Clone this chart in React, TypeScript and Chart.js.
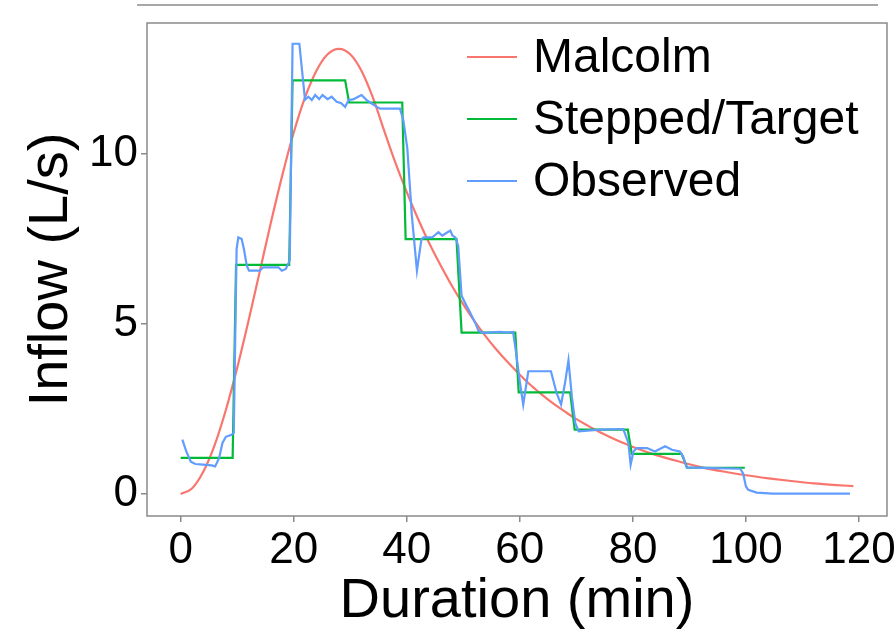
import { useEffect, useRef } from "react";
import { Chart, registerables } from "chart.js";

Chart.register(...registerables);

const FONT = "'Liberation Sans', Arial, sans-serif";

const seriesNames = ["Malcolm", "Stepped/Target", "Observed"];
const seriesColors = ["#F8766D", "#00BA38", "#619CFF"];

const xTickValues = [0, 20, 40, 60, 80, 100, 120];
const yTickValues = [0, 5, 10];

const malcolmX = [0, 2, 4, 6, 8, 10, 12, 14, 16, 18, 20, 22, 24, 26, 28, 30, 32, 34, 36, 38, 40, 42, 44, 46, 48, 50, 52, 54, 56, 58, 60, 62, 64, 66, 68, 70, 72, 74, 76, 78, 80, 84, 88, 92, 96, 100, 104, 108, 112, 116, 119];
const malcolmY = [0, 0.16, 0.65, 1.43, 2.47, 3.71, 5.09, 6.55, 8.01, 9.39, 10.63, 11.67, 12.45, 12.94, 13.1, 12.94, 12.45, 11.67, 10.69, 9.74, 8.88, 8.09, 7.37, 6.72, 6.12, 5.58, 5.08, 4.63, 4.22, 3.85, 3.51, 3.19, 2.91, 2.65, 2.42, 2.2, 2.01, 1.83, 1.67, 1.52, 1.38, 1.15, 0.96, 0.79, 0.66, 0.55, 0.46, 0.38, 0.31, 0.26, 0.23];

const steppedX = [0, 9.2, 9.8, 19.2, 19.8, 29.1, 29.8, 39.2, 39.8, 48.8, 49.7, 59.2, 59.8, 68.9, 69.7, 79.1, 79.8, 88.6, 89.6, 99.8];
const steppedY = [1.06, 1.06, 6.74, 6.74, 12.17, 12.17, 11.52, 11.52, 7.5, 7.5, 4.75, 4.75, 2.99, 2.99, 1.89, 1.89, 1.18, 1.18, 0.77, 0.77];

const observedX = [0.3, 1.0, 1.8, 2.6, 4.0, 5.5, 6.1, 6.8, 7.4, 8.0, 9.0, 9.4, 9.9, 10.2, 10.8, 11.2, 11.7, 12.1, 14.0, 14.6, 17.3, 17.9, 18.6, 19.1, 19.3, 19.8, 21.0, 22.0, 22.6, 23.2, 23.8, 24.5, 25.1, 26.0, 26.7, 27.6, 28.4, 29.1, 29.7, 30.6, 31.4, 32.0, 32.9, 33.8, 34.7, 35.3, 38.8, 39.4, 40.1, 40.9, 41.8, 42.6, 43.0, 44.5, 45.0, 45.6, 46.3, 47.0, 47.7, 48.1, 48.6, 49.1, 49.7, 50.6, 51.2, 52.1, 52.7, 53.5, 56.5, 57.7, 58.8, 59.3, 60.0, 60.6, 61.5, 65.5, 66.5, 67.3, 68.0, 68.6, 69.2, 69.8, 70.4, 74.2, 78.3, 79.2, 79.6, 80.1, 80.7, 82.5, 83.9, 85.7, 86.9, 88.3, 88.9, 89.5, 94.2, 99.0, 99.5, 100.0, 100.4, 101.9, 104.7, 118.4];
const observedY = [1.6, 1.25, 0.95, 0.88, 0.86, 0.84, 0.81, 1.05, 1.5, 1.68, 1.74, 1.8, 7.2, 7.55, 7.5, 7.2, 6.72, 6.57, 6.57, 6.67, 6.67, 6.57, 6.62, 6.8, 6.9, 13.25, 13.25, 11.6, 11.69, 11.59, 11.74, 11.62, 11.74, 11.62, 11.69, 11.54, 11.5, 11.39, 11.59, 11.62, 11.69, 11.74, 11.59, 11.49, 11.39, 11.34, 11.34, 11.0, 10.16, 8.19, 6.57, 7.5, 7.55, 7.55, 7.62, 7.7, 7.6, 7.68, 7.75, 7.6, 7.55, 7.3, 5.83, 5.53, 5.34, 5.04, 4.8, 4.74, 4.77, 4.75, 4.77, 4.2, 3.3, 2.63, 3.61, 3.61, 2.97, 2.63, 3.27, 3.93, 2.87, 2.09, 1.84, 1.89, 1.91, 1.5, 0.86, 1.25, 1.35, 1.35, 1.25, 1.4, 1.3, 1.25, 1.1, 0.78, 0.76, 0.74, 0.6, 0.22, 0.12, 0.04, 0.01, 0.01];

const toPoints = (xs: number[], ys: number[]) => xs.map((x, i) => ({ x, y: ys[i] }));

const decorPlugin = {
  id: "decor",
  beforeDraw(chart: any) {
    const { ctx, width, height } = chart;
    ctx.save();
    ctx.fillStyle = "#ffffff";
    ctx.fillRect(0, 0, width, height);
    // fragment of the panel above
    ctx.strokeStyle = "#8a8a8a";
    ctx.lineWidth = 1.5;
    ctx.beginPath();
    ctx.moveTo(137, 5);
    ctx.lineTo(878, 5);
    ctx.stroke();
    ctx.restore();
  },
  afterDraw(chart: any) {
    const { ctx, chartArea } = chart;
    ctx.save();
    ctx.strokeStyle = "#8a8a8a";
    ctx.lineWidth = 1.5;
    ctx.strokeRect(chartArea.left, chartArea.top, chartArea.right - chartArea.left, chartArea.bottom - chartArea.top);
    // legend
    const lx = 467;
    const ly = 57;
    const gap = 62;
    ctx.font = `48px ${FONT}`;
    ctx.textBaseline = "middle";
    ctx.textAlign = "left";
    seriesNames.forEach((name, i) => {
      const y = ly + i * gap;
      ctx.strokeStyle = seriesColors[i];
      ctx.lineWidth = 2;
      ctx.beginPath();
      ctx.moveTo(lx, y);
      ctx.lineTo(lx + 50, y);
      ctx.stroke();
      ctx.fillStyle = "#000000";
      ctx.fillText(name, lx + 66, y + 2);
    });
    ctx.restore();
  },
};

export default function App() {
  const ref = useRef<HTMLCanvasElement>(null);
  useEffect(() => {
    document.body.style.margin = "0";
    const chart = new Chart(ref.current as HTMLCanvasElement, {
      type: "line",
      data: {
        datasets: [
          {
            label: seriesNames[2],
            data: toPoints(observedX, observedY),
            borderColor: seriesColors[2],
            borderWidth: 2.2,
            pointRadius: 0,
            tension: 0,
            order: 1,
          },
          {
            label: seriesNames[1],
            data: toPoints(steppedX, steppedY),
            borderColor: seriesColors[1],
            borderWidth: 2.2,
            pointRadius: 0,
            tension: 0,
            order: 2,
          },
          {
            label: seriesNames[0],
            data: toPoints(malcolmX, malcolmY),
            borderColor: seriesColors[0],
            borderWidth: 2.2,
            pointRadius: 0,
            cubicInterpolationMode: "monotone",
            order: 3,
          },
        ],
      },
      options: {
        responsive: false,
        animation: false,
        devicePixelRatio: 1,
        layout: { padding: { top: 23, right: 8, left: 0, bottom: 0 } },
        plugins: { legend: { display: false }, tooltip: { enabled: false } },
        scales: {
          x: {
            type: "linear",
            min: -5.95,
            max: 124.95,
            afterFit: (s: any) => {
              s.height = 119;
              s.paddingLeft = 0;
              s.paddingRight = 0;
            },
            afterBuildTicks: (s: any) => {
              s.ticks = xTickValues.map((v) => ({ value: v }));
            },
            border: { display: false },
            grid: { drawOnChartArea: false, drawTicks: true, tickLength: 6, color: "#8a8a8a", lineWidth: 1.5 },
            ticks: { color: "#000", font: { family: FONT, size: 44 }, padding: 2, maxRotation: 0, autoSkip: false },
            title: { display: true, text: "Duration (min)", color: "#000", font: { family: FONT, size: 56 }, padding: { top: 0, bottom: 0 } },
          },
          y: {
            type: "linear",
            min: -0.65,
            max: 13.86,
            afterFit: (s: any) => {
              s.width = 147;
              s.paddingTop = 0;
              s.paddingBottom = 0;
            },
            afterBuildTicks: (s: any) => {
              s.ticks = yTickValues.map((v) => ({ value: v }));
            },
            border: { display: false },
            grid: { drawOnChartArea: false, drawTicks: true, tickLength: 6, color: "#8a8a8a", lineWidth: 1.5 },
            ticks: { color: "#000", font: { family: FONT, size: 44 }, padding: 3, autoSkip: false },
            title: { display: true, text: "Inflow (L/s)", color: "#000", font: { family: FONT, size: 56 }, padding: { top: 18, bottom: 0 } },
          },
        },
      },
      plugins: [decorPlugin],
    });
    return () => chart.destroy();
  }, []);
  return (
    <div style={{ position: "absolute", left: 0, top: 0, width: 895, height: 635, background: "#fff" }}>
      <canvas ref={ref} width={895} height={635} style={{ display: "block" }} />
    </div>
  );
}
